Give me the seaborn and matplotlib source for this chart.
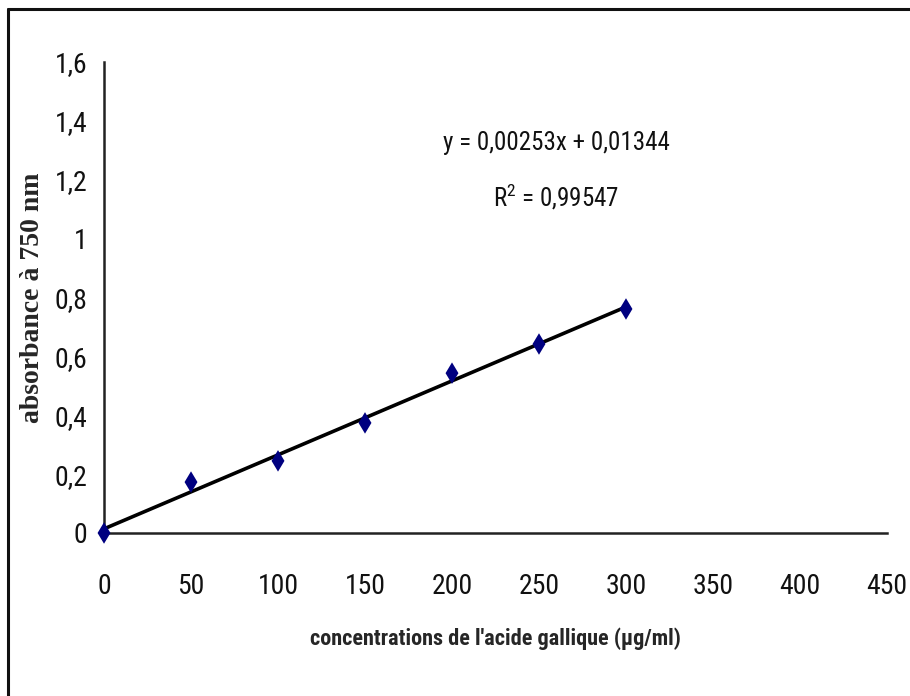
import numpy as np
import pandas as pd
import matplotlib
matplotlib.use("Agg")
import matplotlib.pyplot as plt
import seaborn as sns
import matplotlib.ticker as ticker
from matplotlib.lines import Line2D

# --- données ---
concentrations = [0, 50, 100, 150, 200, 250, 300]
absorbances = [0.0, 0.173, 0.245, 0.374, 0.543, 0.642, 0.761]
equation = "y = 0,00253x + 0,01344"
r2_text = "R$^2$ = 0,99547"

df = pd.DataFrame({"conc": concentrations, "abs": absorbances})

sns.set_style("white")
narrow = ["Roboto Condensed", "Liberation Sans", "DejaVu Sans"]
plt.rcParams["mathtext.fontset"] = "custom"
plt.rcParams["mathtext.rm"] = "Roboto Condensed"

fig = plt.figure(figsize=(9.1, 6.96), dpi=100)
ax = fig.add_axes([0.1143, 0.2342, 0.8604, 0.6767])

sns.regplot(data=df, x="conc", y="abs", ax=ax, ci=None, truncate=True, marker="d",
            scatter_kws=dict(s=120, color="#000080", alpha=1, edgecolor="none", zorder=3, clip_on=False),
            line_kws=dict(color="black", lw=2.6, zorder=2))

ax.set_xlim(0, 450)
ax.set_ylim(0, 1.6)
ax.xaxis.set_major_locator(ticker.MultipleLocator(50))
ax.yaxis.set_major_locator(ticker.MultipleLocator(0.2))
ax.yaxis.set_major_formatter(ticker.FuncFormatter(
    lambda v, _: "0" if abs(v) < 1e-9 else ("1" if abs(v - 1) < 1e-9 else f"{v:.1f}".replace(".", ","))))

for s in ["top", "right"]:
    ax.spines[s].set_visible(False)
for s in ["left", "bottom"]:
    ax.spines[s].set_color("#222222")
    ax.spines[s].set_linewidth(1.8)

ax.tick_params(axis="x", direction="out", length=8, width=1.5, color="#222222", pad=21, labelsize=20)
ax.tick_params(axis="y", direction="out", length=6, width=1.5, color="#222222", pad=6, labelsize=20)
for lab in ax.get_xticklabels() + ax.get_yticklabels():
    lab.set_family(narrow)
    lab.set_color("#111111")

ax.set_xlabel("concentrations de l'acide gallique (µg/ml)", family=narrow, fontweight="bold", fontsize=16)
ax.xaxis.set_label_coords(0.5, -0.2)
ax.set_ylabel("absorbance à 750 nm", family="Liberation Serif", fontweight="bold", fontsize=20)
ax.yaxis.set_label_coords(-0.076, 0.499)

ax.text(260, 1.325, equation, ha="center", va="center", fontsize=18, family=narrow, color="#111111")
ax.text(260, 1.141, r2_text, ha="center", va="center", fontsize=18, family=narrow, color="#111111")

# cadre du graphique (haut et gauche)
fig.add_artist(Line2D([8 / 910, 1], [1 - 9 / 696, 1 - 9 / 696], transform=fig.transFigure, color="#111111", lw=2.2))
fig.add_artist(Line2D([8 / 910, 8 / 910], [0, 1 - 9 / 696], transform=fig.transFigure, color="#111111", lw=2.2))

fig.savefig("out.png", dpi=100)
